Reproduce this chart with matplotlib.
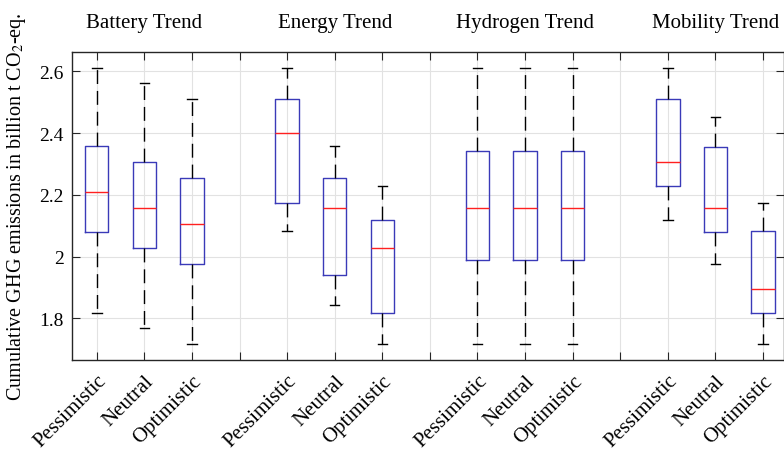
import matplotlib
matplotlib.use("Agg")
import matplotlib.pyplot as plt
import matplotlib.transforms as mtransforms
import numpy as np

plt.rcParams['font.family'] = ['Liberation Serif', 'DejaVu Serif']
plt.rcParams['mathtext.fontset'] = 'stix'

groups = ["Battery Trend", "Energy Trend", "Hydrogen Trend", "Mobility Trend"]
scenarios = ["Pessimistic", "Neutral", "Optimistic"]

# per box: Battery P/N/O, Energy P/N/O, Hydrogen P/N/O, Mobility P/N/O
whis_lo = [1.818, 1.770, 1.716, 2.083, 1.843, 1.716, 1.716, 1.716, 1.716, 2.120, 1.977, 1.716]
q1 = [2.081, 2.029, 1.977, 2.173, 1.941, 1.818, 1.990, 1.990, 1.990, 2.228, 2.081, 1.818]
med = [2.208, 2.158, 2.107, 2.402, 2.158, 2.029, 2.158, 2.158, 2.158, 2.307, 2.158, 1.894]
q3 = [2.359, 2.307, 2.256, 2.511, 2.255, 2.120, 2.342, 2.342, 2.342, 2.511, 2.354, 2.083]
whis_hi = [2.611, 2.562, 2.511, 2.611, 2.359, 2.228, 2.611, 2.611, 2.611, 2.611, 2.451, 2.173]

positions = [g * 4 + s + 1 for g in range(len(groups)) for s in range(len(scenarios))]

stats = []
for i in range(len(med)):
    stats.append(dict(whislo=whis_lo[i], q1=q1[i], med=med[i], q3=q3[i], whishi=whis_hi[i], fliers=[]))

fig = plt.figure(figsize=(7.84, 4.52), dpi=100)
ax = fig.add_axes([72 / 784, 91 / 452, 712 / 784, 308 / 452])

ax.bxp(stats, positions=positions, widths=0.49, showfliers=False,
       boxprops=dict(color='#3a3ab8', linewidth=1.0),
       medianprops=dict(color='#ff2020', linewidth=1.0),
       whiskerprops=dict(color='black', linewidth=1.0, linestyle=(0, (10, 5))),
       capprops=dict(color='black', linewidth=1.0),
       capwidths=0.2, zorder=3)

ax.set_xlim(0.48, 15.44)
ax.set_ylim(1.665, 2.663)

xt = list(range(1, 16))
xl = []
for p in xt:
    if p % 4 == 0:
        xl.append("")
    else:
        xl.append(scenarios[(p - 1) % 4])
ax.set_xticks(xt)
ax.set_xticklabels(xl, rotation=45, ha='right', rotation_mode='anchor', fontsize=15)
yt = [1.8, 2.0, 2.2, 2.4, 2.6]
ax.set_yticks(yt)
ax.set_yticklabels(["%g" % v for v in yt], fontsize=14)

ax.tick_params(direction='in', length=6, top=True, right=True, color='#262626', pad=6)
ax.tick_params(axis='x', pad=8)
for sp in ax.spines.values():
    sp.set_color('#262626')
    sp.set_linewidth(1.0)
ax.grid(True, color='#e2e2e2', linewidth=0.8)
ax.set_axisbelow(True)

ax.set_ylabel("Cumulative GHG emissions in billion t CO$_2$-eq.", fontsize=14.5)
ax.yaxis.set_label_coords(-0.062, 0.5)

trans = mtransforms.blended_transform_factory(ax.transData, ax.transAxes)
for g, name in enumerate(groups):
    ax.text(g * 4 + 2, 1.095, name, transform=trans, ha='center', va='center', fontsize=15)

fig.savefig("out.png", dpi=100)
